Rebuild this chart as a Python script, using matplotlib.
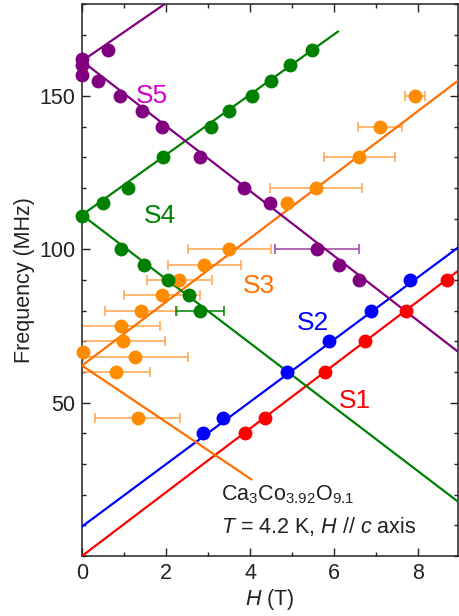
import matplotlib
matplotlib.use('Agg')
import matplotlib.pyplot as plt
import numpy as np
from matplotlib.ticker import MultipleLocator

plt.rcParams['font.family'] = ['Liberation Sans', 'DejaVu Sans']
plt.rcParams['mathtext.fontset'] = 'custom'
plt.rcParams['mathtext.rm'] = 'Liberation Sans'
plt.rcParams['mathtext.it'] = 'Liberation Sans:italic'

# S1 (red)
H1 = [3.87, 4.35, 5.79, 6.74, 7.71, 8.68]
f1 = [40, 45, 60, 70, 80, 90]
line1_H = [0, 8.95]
line1_f = [0, 93]

# S2 (blue)
H2 = [2.88, 3.35, 4.88, 5.87, 6.88, 7.81]
f2 = [40, 45, 60, 70, 80, 90]
line2_H = [0, 8.95]
line2_f = [9.6, 100.6]

# S3 (orange)
H3 = [7.93, 7.09, 6.60, 5.57, 4.88, 3.51, 2.91, 2.32, 1.91, 1.41, 0.92, 0.97, 0.02, 1.27, 0.81, 1.33]
f3 = [150, 140, 130, 120, 115, 100, 95, 90, 85, 80, 75, 70, 66.5, 65, 60, 45]
xerr3 = [0.24, 0.52, 0.84, 1.10, 0, 0.98, 0.87, 0.78, 0.90, 0.86, 0.94, 1.0, 0, 1.25, 0.82, 1.01]
line3up_H = [0, 8.95]
line3up_f = [62.1, 155]
line3dn_H = [0, 4.03]
line3dn_f = [62.1, 25]

# S4 (green)
H4up = [0, 0.51, 1.10, 1.93, 3.06, 3.49, 4.05, 4.50, 4.96, 5.48]
f4up = [111, 115, 120, 130, 140, 145, 150, 155, 160, 165]
H4dn = [0.92, 1.47, 2.04, 2.54, 2.80]
f4dn = [100, 95, 90, 85, 80]
xerr4dn = [0, 0, 0, 0, 0.57]
line4up_H = [0, 6.09]
line4up_f = [111.2, 171]
line4dn_H = [0, 8.95]
line4dn_f = [111.2, 17.7]

# S5 (purple)
H5up = [0, 0, 0, 0.63]
f5up = [162, 160, 157, 165]
H5dn = [0.39, 0.90, 1.43, 1.91, 2.80, 3.85, 4.47, 5.59, 6.11, 6.60]
f5dn = [155, 150, 145, 140, 130, 120, 115, 100, 95, 90]
xerr5dn = [0, 0, 0, 0, 0, 0, 0, 1.0, 0, 0]
line5up_H = [0, 1.97]
line5up_f = [161.4, 180]
line5dn_H = [0, 8.95]
line5dn_f = [161.4, 66.6]

red = '#ff0000'
blue = '#0000ff'
orange_pt = '#ff8c00'
orange_ln = '#ff6f00'
orange_err = '#ffa448'
green = '#008000'
purple = '#800080'
ink = '#222222'

fig = plt.figure(figsize=(4.59, 6.16), dpi=100)
ax = fig.add_axes([0.1786, 0.0974, 0.8194, 0.8961])

lw = 1.6
ms = 10

# error bars first
def err(H, f, xe, c):
    H = np.array(H); f = np.array(f); xe = np.array(xe)
    m = xe > 0
    ax.errorbar(H[m], f[m], xerr=xe[m], fmt='none', ecolor=c, elinewidth=1.1,
                capsize=3.5, capthick=1.1, zorder=2)

err(H3, f3, xerr3, orange_err)
err(H4dn, f4dn, xerr4dn, green)
err(H5dn, f5dn, xerr5dn, '#a040a0')

# fit lines
ax.plot(line1_H, line1_f, color=red, lw=lw, zorder=3)
ax.plot(line2_H, line2_f, color=blue, lw=lw, zorder=3)
ax.plot(line3up_H, line3up_f, color=orange_ln, lw=lw, zorder=3)
ax.plot(line3dn_H, line3dn_f, color=orange_ln, lw=lw, zorder=3)
ax.plot(line4up_H, line4up_f, color=green, lw=lw, zorder=3)
ax.plot(line4dn_H, line4dn_f, color=green, lw=lw, zorder=3)
ax.plot(line5up_H, line5up_f, color=purple, lw=lw, zorder=3)
ax.plot(line5dn_H, line5dn_f, color=purple, lw=lw, zorder=3)

# data points
for H, f, c in [(H1, f1, red), (H2, f2, blue), (H3, f3, orange_pt),
                (H4up, f4up, green), (H4dn, f4dn, green),
                (H5up, f5up, purple), (H5dn, f5dn, purple)]:
    ax.plot(H, f, 'o', color=c, ms=ms, mec='none', zorder=4, clip_on=False)

# labels
ax.text(1.67, 150, 'S5', color='#d000d0', fontsize=19, ha='center', va='center')
ax.text(1.86, 111, 'S4', color=green, fontsize=19, ha='center', va='center')
ax.text(4.2, 88, 'S3', color=orange_ln, fontsize=19, ha='center', va='center')
ax.text(5.5, 76, 'S2', color=blue, fontsize=19, ha='center', va='center')
ax.text(6.5, 50.5, 'S1', color=red, fontsize=19, ha='center', va='center')
ax.text(3.3, 20, r'Ca$_3$Co$_{3.92}$O$_{9.1}$', color=ink, fontsize=15.5, ha='left', va='center')
ax.text(3.3, 9.5, r'$T$ = 4.2 K, $H$ // $c$ axis', color=ink, fontsize=15.5, ha='left', va='center')

ax.set_xlim(0, 8.95)
ax.set_ylim(0, 180)
ax.set_xticks([0, 2, 4, 6, 8])
ax.set_yticks([50, 100, 150])
ax.xaxis.set_minor_locator(MultipleLocator(1))
ax.yaxis.set_minor_locator(MultipleLocator(10))
ax.tick_params(which='both', direction='in', top=True, right=True, colors=ink,
               labelsize=15.5, width=1)
ax.tick_params(which='major', length=5.5, pad=5)
ax.tick_params(which='minor', length=3)
for s in ax.spines.values():
    s.set_color(ink)
    s.set_linewidth(1.1)

ax.set_xlabel(r'$H$ (T)', fontsize=15.5, color=ink, labelpad=2)
ax.set_ylabel('Frequency (MHz)', fontsize=15.5, color=ink, labelpad=3)

fig.savefig('out.png', dpi=100)
